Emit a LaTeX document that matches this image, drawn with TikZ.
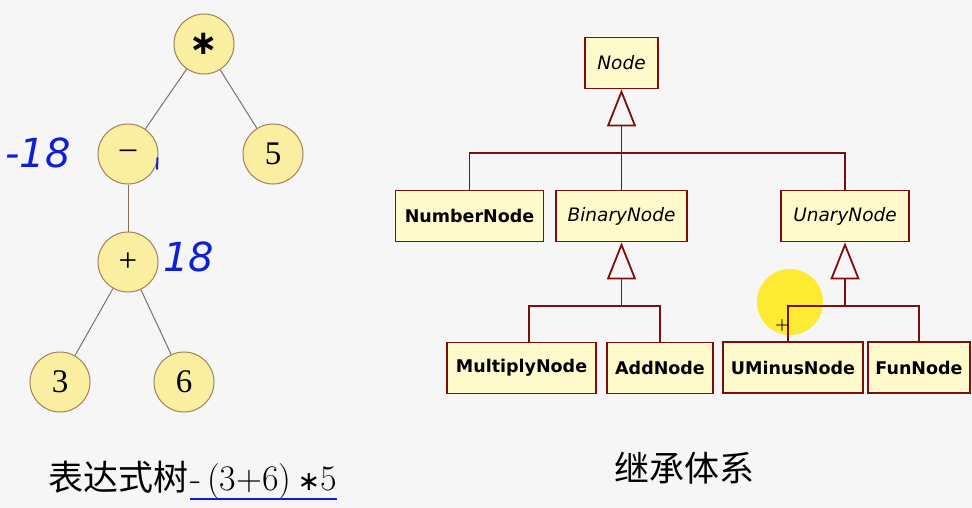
\documentclass[tikz,border=0pt]{standalone}
\usepackage{amsmath}
\usepackage{fontspec}
\usetikzlibrary{arrows.meta, positioning}
\newfontfamily\cjk{Noto Sans CJK SC}
\newfontfamily\umlfont{DejaVu Sans}
\newfontfamily\treefont{Liberation Serif}
\definecolor{paper}{RGB}{246,246,246}
\definecolor{boxfill}{RGB}{255,250,204}
\definecolor{boxline}{RGB}{125,14,14}
\definecolor{ballfill}{RGB}{250,238,160}
\definecolor{ballline}{RGB}{160,128,90}
\definecolor{edgeline}{RGB}{130,112,100}
\definecolor{ink}{RGB}{15,30,215}

\begin{document}
\begin{tikzpicture}[
        x=1pt, y=-1pt,
        ball/.style={circle, draw=ballline, fill=ballfill, line width=1pt, minimum size=60pt, inner sep=0pt, font=\treefont\fontsize{33}{34}\selectfont},
        edge/.style={draw=edgeline, line width=1pt},
        cls/.style={draw=boxline, fill=boxfill, line width=1.8pt, minimum height=51pt, inner sep=0pt, font=\umlfont\bfseries\fontsize{17.5}{20}\selectfont},
        abscls/.style={cls, font=\umlfont\itshape\fontsize{18.5}{20}\selectfont},
        gen/.style={draw=boxline, line width=1.8pt},
        hollow/.style={-{Triangle[open, fill=paper, length=37pt, width=29pt]}},
        hand/.style={text=ink, inner sep=0pt, font=\umlfont\itshape\fontsize{40}{44}\selectfont},
        captext/.style={inner sep=0pt, font=\fontsize{35}{38}\selectfont}
        ]
        \fill[paper] (0,0) rectangle (972,508);
        \useasboundingbox (0,0) rectangle (972,508);
        % expression tree
        \node[ball] (times) at (204,44) {{\umlfont\bfseries\fontsize{34}{34}\selectfont ∗}};
        \node[ball] (neg) at (128,154) {–};
        \node[ball] (five) at (273,154) {5};
        \node[ball] (plus) at (128,262) {+};
        \node[ball] (three) at (60,382) {3};
        \node[ball] (six) at (184,382) {6};
        \draw[edge] (times) -- (neg);
        \draw[edge] (times) -- (five);
        \draw[edge] (neg) -- (plus);
        \draw[edge] (plus) -- (three);
        \draw[edge] (plus) -- (six);
        % handwritten values
        \node[hand] (negval) at (38,153) {-18};
        \node[hand] (plusval) at (189,257) {18};
        \draw[ink, line width=2pt, line cap=round] (157.5,158) -- (157,169);
        % caption of the tree
        \node[captext, anchor=base west] (treecap) at (48,490) {\cjk 表达式树};
        \node[captext, anchor=base west, font=\fontsize{36}{38}\selectfont] (expr) at (190,490) {-\,(3+6)\,{\umlfont\fontsize{27}{27}\selectfont ∗}5};
        \draw[ink, line width=2pt] (expr.south west) -- (expr.south east);
        % cursor mark
        \fill[yellow!92!orange, opacity=0.8] (790,302) circle[radius=33];
        % class hierarchy
        \node[abscls, minimum width=73pt] (node) at (621.5,63) {Node};
        \node[cls, minimum width=148pt] (number) at (469.5,216) {NumberNode};
        \node[abscls, minimum width=131pt] (binary) at (621.5,216) {BinaryNode};
        \node[abscls, minimum width=128pt] (unary) at (845,216) {UnaryNode};
        \node[cls, minimum width=149pt] (multiply) at (521.5,368) {MultiplyNode};
        \node[cls, minimum width=106pt] (add) at (660,368) {AddNode};
        \node[cls, minimum width=140pt] (uminus) at (793,367.5) {UMinusNode};
        \node[cls, minimum width=102pt] (fun) at (919,367.5) {FunNode};
        % generalisation
        \coordinate (nodejoin) at (node.south |- 0,153);
        \coordinate (binjoin) at (binary.south |- 0,306);
        \coordinate (unjoin) at (unary.south |- 0,306);
        \draw[gen] (number.north) |- (nodejoin) -| (unary.north);
        \draw[gen] (binary.north) -- (nodejoin);
        \draw[gen, hollow] (nodejoin) -- (node.south);
        \draw[gen] ([xshift=7.5pt]multiply.north) |- (binjoin) -| (add.north);
        \draw[gen, hollow] (binjoin) -- (binary.south);
        \draw[gen] ([xshift=-5pt]uminus.north) |- (unjoin) -| (fun.north);
        \draw[gen, hollow] (unjoin) -- (unary.south);
        \node[font=\bfseries\fontsize{16}{16}\selectfont, inner sep=0pt] (pointer) at (782,326) {+};
        % caption of the hierarchy
        \node[captext] (inhcap) at (684,468) {\cjk 继承体系};
\end{tikzpicture}
\end{document}
